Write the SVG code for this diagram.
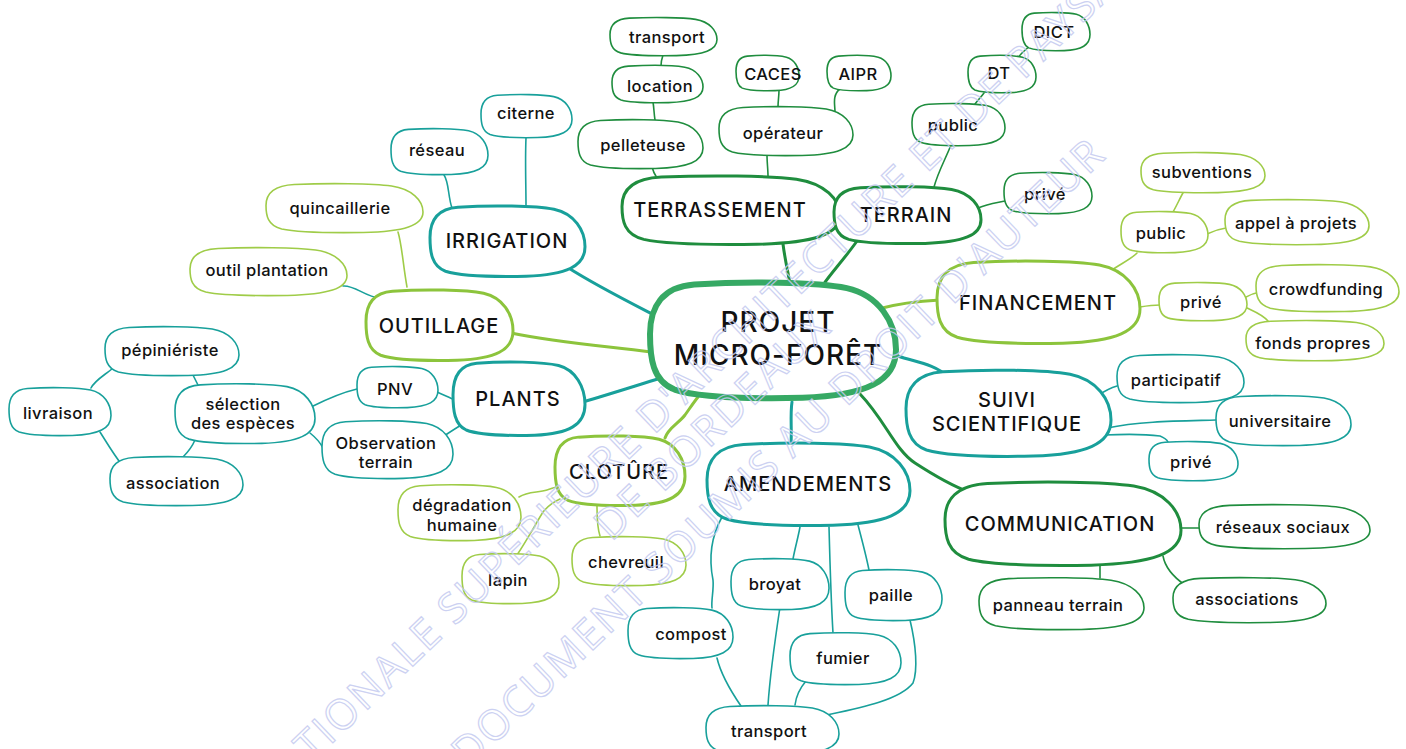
<svg xmlns="http://www.w3.org/2000/svg" xmlns:xlink="http://www.w3.org/1999/xlink" width="1406" height="749" viewBox="0 0 1406 749">
<style>
text{font-family:Inter,"Open Sans","Liberation Sans",sans-serif;fill:#111;text-anchor:middle;font-weight:500}
.s{font-size:16.5px;letter-spacing:0.4px}
.m{font-size:20px;letter-spacing:1px}
.c{font-size:28px;letter-spacing:1px}
use{fill:#fff}
.n use{stroke-width:1.6}
.M use{stroke-width:3}
.dk{stroke:#1f8d3e}
.tl{stroke:#18a09b}
.lm{stroke:#8cc43c}
.ls{stroke:#9fcc48}
.ct{stroke:#36a964}
#con path{fill:none;stroke-linecap:round}
#con .a{stroke-width:3}
#con .b{stroke-width:1.6}
#watermark text{font-family:"Open Sans","Liberation Sans",sans-serif;font-size:42px;fill:none;stroke:#c4caf0;stroke-width:1.2;letter-spacing:2px;font-weight:400;opacity:0.85}
</style>
<defs>
<path id="b" vector-effect="non-scaling-stroke" d="M18,3 C40,0 68,1 80,6 C93,12 100,35 100,58 C100,85 88,97 62,99 C40,100 20,99 10,92 C1,85 0,65 0,45 C0,22 5,5 18,3 Z"/>
</defs>
<rect width="1406" height="749" fill="#fff"/>

<g id="con">
<path class="a dk" d="M783,244 C785,260 788,272 790,284"/>
<path class="a dk" d="M857,241 C845,258 832,272 823,285"/>
<path class="a tl" d="M567,267 C595,285 625,300 658,317"/>
<path class="a lm" d="M511,333 C560,343 605,346 651,352"/>
<path class="a tl" d="M583,402 C610,394 635,386 661,378"/>
<path class="a lm" d="M665,438 C668,428 678,424 685,415 C690,408 694,402 698,397"/>
<path class="a tl" d="M792,402 C790,415 792,430 791,443"/>
<path class="a dk" d="M860,394 C885,420 895,450 915,463 C935,476 950,485 969,492"/>
<path class="a tl" d="M898,356 C915,362 935,364 948,377"/>
<path class="a lm" d="M878,309 C900,303 920,301 940,300"/>
<path class="b dk" d="M652,167 C653,171 655,175 657,178"/>
<path class="b dk" d="M653,102 C654,108 654,114 655,120"/>
<path class="b dk" d="M663,55 C662,58 661,62 661,66"/>
<path class="b dk" d="M767,155 C767,162 768,170 768,176"/>
<path class="b dk" d="M779,90 C779,96 778,101 778,107"/>
<path class="b dk" d="M840,89 C832,95 835,105 835,112"/>
<path class="b dk" d="M951,145 C945,160 938,172 934,187"/>
<path class="b dk" d="M984,93 C981,97 978,100 975,104"/>
<path class="b dk" d="M1030,46 C1025,50 1020,54 1018,58"/>
<path class="b dk" d="M978,208 C988,204 996,203 1005,201"/>
<path class="b tl" d="M444,175 C449,182 448,197 452,208"/>
<path class="b tl" d="M526,138 C525,160 526,185 526,206"/>
<path class="b ls" d="M398,232 C402,245 403,265 407,287"/>
<path class="b tl" d="M343,286 C355,285 365,297 380,298"/>
<path class="b tl" d="M437,392 C444,395 450,398 455,400"/>
<path class="b tl" d="M444,436 C450,432 456,428 463,424"/>
<path class="b tl" d="M311,407 C325,400 340,393 357,389"/>
<path class="b tl" d="M310,433 C315,437 320,442 323,448"/>
<path class="b tl" d="M193,375 C195,379 197,383 199,387"/>
<path class="b tl" d="M195,440 C192,447 188,452 183,457"/>
<path class="b tl" d="M113,368 C105,375 95,380 91,388"/>
<path class="b tl" d="M100,432 C107,443 114,455 122,465"/>
<path class="b ls" d="M519,497 C528,491 538,493 547,490 C551,489 555,487 560,486"/>
<path class="b ls" d="M517,555 C527,540 535,525 543,512 C548,506 553,502 560,499"/>
<path class="b ls" d="M597,506 C597,515 597,527 600,536"/>
<path class="b tl" d="M722,517 C712,535 708,555 713,580 C714,590 711,600 712,608"/>
<path class="b tl" d="M800,527 C798,538 795,548 793,559"/>
<path class="b tl" d="M829,527 C830,565 831,600 833,633"/>
<path class="b tl" d="M858,525 C862,540 866,555 869,570"/>
<path class="b tl" d="M717,658 C721,675 730,690 741,706"/>
<path class="b tl" d="M780,607 C775,640 770,675 768,705"/>
<path class="b tl" d="M806,681 C800,688 796,697 795,705"/>
<path class="b tl" d="M910,620 C916,645 918,670 913,683 C900,700 860,708 827,715"/>
<path class="b tl" d="M1097,396 C1103,392 1110,388 1117,386"/>
<path class="b tl" d="M1107,428 C1140,421 1180,421 1216,420"/>
<path class="b tl" d="M1104,435 C1125,434 1145,434 1160,436 C1165,438 1167,440 1168,442"/>
<path class="b ls" d="M1112,270 C1120,264 1130,260 1137,253"/>
<path class="b ls" d="M1184,191 C1180,198 1177,205 1173,212"/>
<path class="b ls" d="M1207,234 C1213,231 1219,229 1226,228"/>
<path class="b ls" d="M1140,307 C1146,306 1153,305 1160,305"/>
<path class="b ls" d="M1244,298 C1249,295 1254,293 1260,292"/>
<path class="b ls" d="M1245,307 C1253,311 1262,314 1268,321"/>
<path class="b dk" d="M1181,528 C1187,528 1193,528 1199,528"/>
<path class="b dk" d="M1100,565 C1100,570 1100,574 1100,578"/>
<path class="b dk" d="M1163,556 C1165,567 1172,576 1185,585"/>
</g>

<g id="n-center"><use xlink:href="#b" class="ct" style="stroke-width:6px" transform="translate(650,281) scale(2.46,1.18)"/><text class="c" x="778" y="332">PROJET<tspan x="778" dy="33">MICRO-FORÊT</tspan></text></g>

<g id="n-terrassement" class="M"><use xlink:href="#b" class="dk" transform="translate(622,175) scale(2.18,0.70)"/><text class="m" x="720" y="217">TERRASSEMENT</text></g>
<g id="n-terrain" class="M"><use xlink:href="#b" class="dk" transform="translate(834,186) scale(1.47,0.58)"/><text class="m" x="906" y="222">TERRAIN</text></g>
<g id="n-irrigation" class="M"><use xlink:href="#b" class="tl" transform="translate(430,205) scale(1.55,0.72)"/><text class="m" x="507" y="248">IRRIGATION</text></g>
<g id="n-outillage" class="M"><use xlink:href="#b" class="lm" transform="translate(366,289) scale(1.47,0.72)"/><text class="m" x="439" y="333">OUTILLAGE</text></g>
<g id="n-plants" class="M"><use xlink:href="#b" class="tl" transform="translate(453,361) scale(1.32,0.75)"/><text class="m" x="518" y="406">PLANTS</text></g>
<g id="n-cloture" class="M"><use xlink:href="#b" class="lm" transform="translate(555,435) scale(1.30,0.71)"/><text class="m" x="619" y="479">CLOTÛRE</text></g>
<g id="n-amendements" class="M"><use xlink:href="#b" class="tl" transform="translate(707,442) scale(2.03,0.84)"/><text class="m" x="808" y="491">AMENDEMENTS</text></g>
<g id="n-suivi" class="M"><use xlink:href="#b" class="tl" transform="translate(906,369) scale(2.05,0.88)"/><text class="m" x="1007" y="407">SUIVI<tspan x="1007" dy="24">SCIENTIFIQUE</tspan></text></g>
<g id="n-financement" class="M"><use xlink:href="#b" class="lm" transform="translate(937,260) scale(2.03,0.84)"/><text class="m" x="1038" y="310">FINANCEMENT</text></g>
<g id="n-communication" class="M"><use xlink:href="#b" class="dk" transform="translate(945,481) scale(2.36,0.85)"/><text class="m" x="1060" y="531">COMMUNICATION</text></g>

<g id="n-transport1" class="n"><use xlink:href="#b" class="dk" transform="translate(610,17) scale(1.07,0.39)"/><text class="s" x="667" y="43">transport</text></g>
<g id="n-location" class="n"><use xlink:href="#b" class="dk" transform="translate(612,65) scale(0.91,0.38)"/><text class="s" x="660" y="92">location</text></g>
<g id="n-pelleteuse" class="n"><use xlink:href="#b" class="dk" transform="translate(578,119) scale(1.25,0.50)"/><text class="s" x="643" y="151">pelleteuse</text></g>
<g id="n-operateur" class="n"><use xlink:href="#b" class="dk" transform="translate(719,106) scale(1.34,0.50)"/><text class="s" x="783" y="139">opérateur</text></g>
<g id="n-caces" class="n"><use xlink:href="#b" class="dk" transform="translate(736,55) scale(0.63,0.36)"/><text class="s" x="773" y="80">CACES</text></g>
<g id="n-aipr" class="n"><use xlink:href="#b" class="dk" transform="translate(827,55) scale(0.64,0.36)"/><text class="s" x="858" y="80">AIPR</text></g>
<g id="n-public-terrain" class="n"><use xlink:href="#b" class="dk" transform="translate(912,103) scale(0.93,0.43)"/><text class="s" x="953" y="131">public</text></g>
<g id="n-dt" class="n"><use xlink:href="#b" class="dk" transform="translate(968,55) scale(0.68,0.38)"/><text class="s" x="999" y="79">DT</text></g>
<g id="n-dict" class="n"><use xlink:href="#b" class="dk" transform="translate(1022,12) scale(0.68,0.39)"/><text class="s" x="1054" y="38">DICT</text></g>
<g id="n-prive-terrain" class="n"><use xlink:href="#b" class="dk" transform="translate(1004,172) scale(0.88,0.42)"/><text class="s" x="1045" y="200">privé</text></g>
<g id="n-reseau" class="n"><use xlink:href="#b" class="tl" transform="translate(391,128) scale(0.97,0.47)"/><text class="s" x="437" y="156">réseau</text></g>
<g id="n-citerne" class="n"><use xlink:href="#b" class="tl" transform="translate(481,94) scale(0.91,0.44)"/><text class="s" x="526" y="119">citerne</text></g>
<g id="n-quincaillerie" class="n"><use xlink:href="#b" class="ls" transform="translate(266,183) scale(1.57,0.50)"/><text class="s" x="340" y="214">quincaillerie</text></g>
<g id="n-outil" class="n"><use xlink:href="#b" class="ls" transform="translate(190,247) scale(1.57,0.49)"/><text class="s" x="267" y="276">outil plantation</text></g>
<g id="n-pnv" class="n"><use xlink:href="#b" class="tl" transform="translate(357,366) scale(0.81,0.42)"/><text class="s" x="395" y="395">PNV</text></g>
<g id="n-observation" class="n"><use xlink:href="#b" class="tl" transform="translate(322,420) scale(1.31,0.59)"/><text class="s" x="386" y="449">Observation<tspan x="386" dy="19">terrain</tspan></text></g>
<g id="n-selection" class="n"><use xlink:href="#b" class="tl" transform="translate(175,383) scale(1.40,0.61)"/><text class="s" x="243" y="410">sélection<tspan x="243" dy="19">des espèces</tspan></text></g>
<g id="n-pepinieriste" class="n"><use xlink:href="#b" class="tl" transform="translate(105,326) scale(1.34,0.50)"/><text class="s" x="170" y="356">pépiniériste</text></g>
<g id="n-livraison" class="n"><use xlink:href="#b" class="tl" transform="translate(9,387) scale(1.02,0.49)"/><text class="s" x="58" y="419">livraison</text></g>
<g id="n-association" class="n"><use xlink:href="#b" class="tl" transform="translate(110,456) scale(1.33,0.50)"/><text class="s" x="173" y="489">association</text></g>
<g id="n-degradation" class="n"><use xlink:href="#b" class="ls" transform="translate(398,484) scale(1.23,0.57)"/><text class="s" x="462" y="511">dégradation<tspan x="462" dy="20">humaine</tspan></text></g>
<g id="n-lapin" class="n"><use xlink:href="#b" class="ls" transform="translate(462,553) scale(0.97,0.51)"/><text class="s" x="508" y="586">lapin</text></g>
<g id="n-chevreuil" class="n"><use xlink:href="#b" class="ls" transform="translate(572,536) scale(1.14,0.50)"/><text class="s" x="626" y="568">chevreuil</text></g>
<g id="n-broyat" class="n"><use xlink:href="#b" class="tl" transform="translate(731,558) scale(0.98,0.52)"/><text class="s" x="775" y="590">broyat</text></g>
<g id="n-paille" class="n"><use xlink:href="#b" class="tl" transform="translate(845,569) scale(0.97,0.52)"/><text class="s" x="891" y="601">paille</text></g>
<g id="n-compost" class="n"><use xlink:href="#b" class="tl" transform="translate(628,607) scale(1.05,0.52)"/><text class="s" x="691" y="640">compost</text></g>
<g id="n-fumier" class="n"><use xlink:href="#b" class="tl" transform="translate(790,632) scale(1.11,0.53)"/><text class="s" x="843" y="664">fumier</text></g>
<g id="n-transport2" class="n"><use xlink:href="#b" class="tl" transform="translate(706,705) scale(1.33,0.50)"/><text class="s" x="769" y="737">transport</text></g>
<g id="n-participatif" class="n"><use xlink:href="#b" class="tl" transform="translate(1117,354) scale(1.27,0.49)"/><text class="s" x="1176" y="386">participatif</text></g>
<g id="n-universitaire" class="n"><use xlink:href="#b" class="tl" transform="translate(1216,395) scale(1.35,0.51)"/><text class="s" x="1280" y="427">universitaire</text></g>
<g id="n-prive-suivi" class="n"><use xlink:href="#b" class="tl" transform="translate(1149,441) scale(0.89,0.40)"/><text class="s" x="1191" y="468">privé</text></g>
<g id="n-public-fin" class="n"><use xlink:href="#b" class="ls" transform="translate(1121,211) scale(0.87,0.42)"/><text class="s" x="1161" y="239">public</text></g>
<g id="n-subventions" class="n"><use xlink:href="#b" class="ls" transform="translate(1141,152) scale(1.24,0.41)"/><text class="s" x="1202" y="178">subventions</text></g>
<g id="n-appel" class="n"><use xlink:href="#b" class="ls" transform="translate(1225,199) scale(1.44,0.46)"/><text class="s" x="1296" y="229">appel à projets</text></g>
<g id="n-prive-fin" class="n"><use xlink:href="#b" class="ls" transform="translate(1159,282) scale(0.88,0.39)"/><text class="s" x="1201" y="308">privé</text></g>
<g id="n-crowdfunding" class="n"><use xlink:href="#b" class="ls" transform="translate(1256,264) scale(1.43,0.48)"/><text class="s" x="1326" y="295">crowdfunding</text></g>
<g id="n-fonds" class="n"><use xlink:href="#b" class="ls" transform="translate(1246,320) scale(1.38,0.41)"/><text class="s" x="1313" y="349">fonds propres</text></g>
<g id="n-reseaux" class="n"><use xlink:href="#b" class="dk" transform="translate(1199,504) scale(1.71,0.45)"/><text class="s" x="1283" y="533">réseaux sociaux</text></g>
<g id="n-panneau" class="n"><use xlink:href="#b" class="dk" transform="translate(979,577) scale(1.65,0.53)"/><text class="s" x="1058" y="611">panneau terrain</text></g>
<g id="n-associations" class="n"><use xlink:href="#b" class="dk" transform="translate(1173,577) scale(1.53,0.46)"/><text class="s" x="1247" y="605">associations</text></g>

<g id="watermark">
<text x="650" y="433" transform="rotate(-43.8 650 418)">ÉCOLE NATIONALE SUPÉRIEURE D'ARCHITECTURE ET DE PAYSAGE</text>
<text x="712" y="440" transform="rotate(-43.8 712 425)">DE BORDEAUX</text>
<text x="778" y="467" transform="rotate(-43.8 778 452)">DOCUMENT SOUMIS AU DROIT D'AUTEUR</text>
</g>
</svg>
